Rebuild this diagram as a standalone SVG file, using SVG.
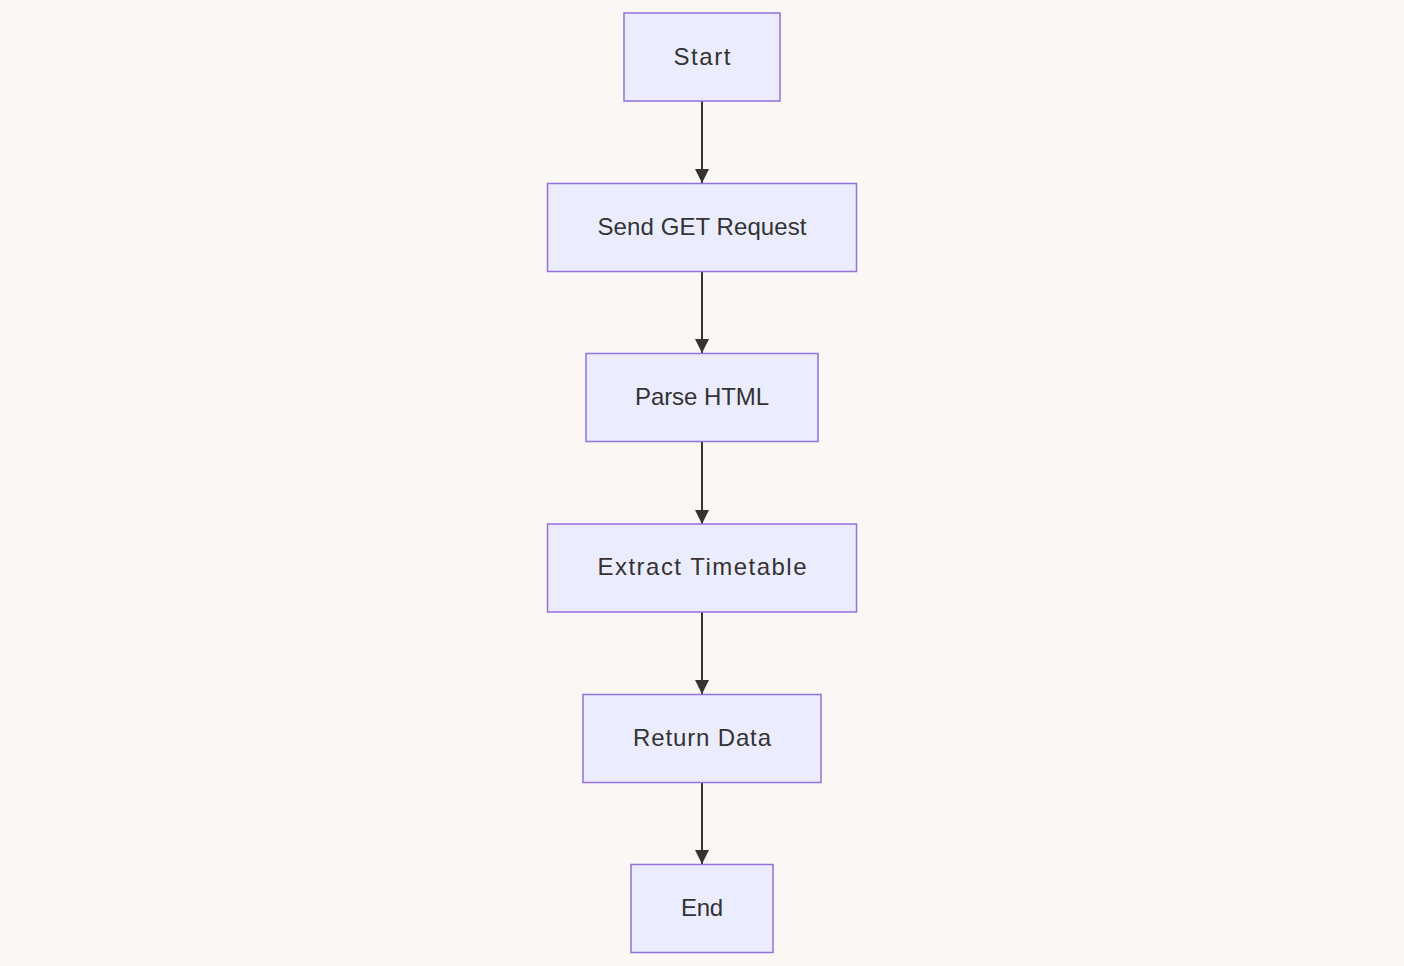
<svg xmlns="http://www.w3.org/2000/svg" width="1404" height="966" viewBox="0 0 1404 966">
<style>
.node rect{fill:#ECECFF;stroke:#9370DB;stroke-width:1.5}
.node text{font-family:"Liberation Sans","DejaVu Sans",sans-serif;font-size:24px;fill:#333;text-anchor:middle;dominant-baseline:central}
.edge{stroke:#333;stroke-width:2;fill:none;marker-end:url(#arr)}
</style>
<defs>
<marker id="arr" viewBox="0 0 10 10" refX="10" refY="5" markerUnits="userSpaceOnUse" markerWidth="14" markerHeight="14" orient="auto">
<path d="M0,0 L10,5 L0,10 z" fill="#333"/>
</marker>
</defs>
<rect width="1404" height="966" fill="#faf7f4"/>
<g id="edges">
<path class="edge" d="M702,101 L702,183"/>
<path class="edge" d="M702,272 L702,353"/>
<path class="edge" d="M702,442 L702,524"/>
<path class="edge" d="M702,612 L702,694"/>
<path class="edge" d="M702,782 L702,864"/>
</g>
<g id="start" class="node"><rect x="624" y="13" width="156" height="88"/><text x="702" y="56.5" textLength="57">Start</text></g>
<g id="send" class="node"><rect x="547.5" y="183.5" width="309" height="88"/><text x="702" y="226.5" textLength="209">Send GET Request</text></g>
<g id="parse" class="node"><rect x="586" y="353.5" width="232" height="88"/><text x="702" y="396.5" textLength="134">Parse HTML</text></g>
<g id="extract" class="node"><rect x="547.5" y="524" width="309" height="88"/><text x="702" y="566.5" textLength="209">Extract Timetable</text></g>
<g id="return" class="node"><rect x="583" y="694.5" width="238" height="88"/><text x="702" y="737.5" textLength="138">Return Data</text></g>
<g id="end" class="node"><rect x="631" y="864.5" width="142" height="88"/><text x="702" y="907.5" textLength="42">End</text></g>
</svg>
